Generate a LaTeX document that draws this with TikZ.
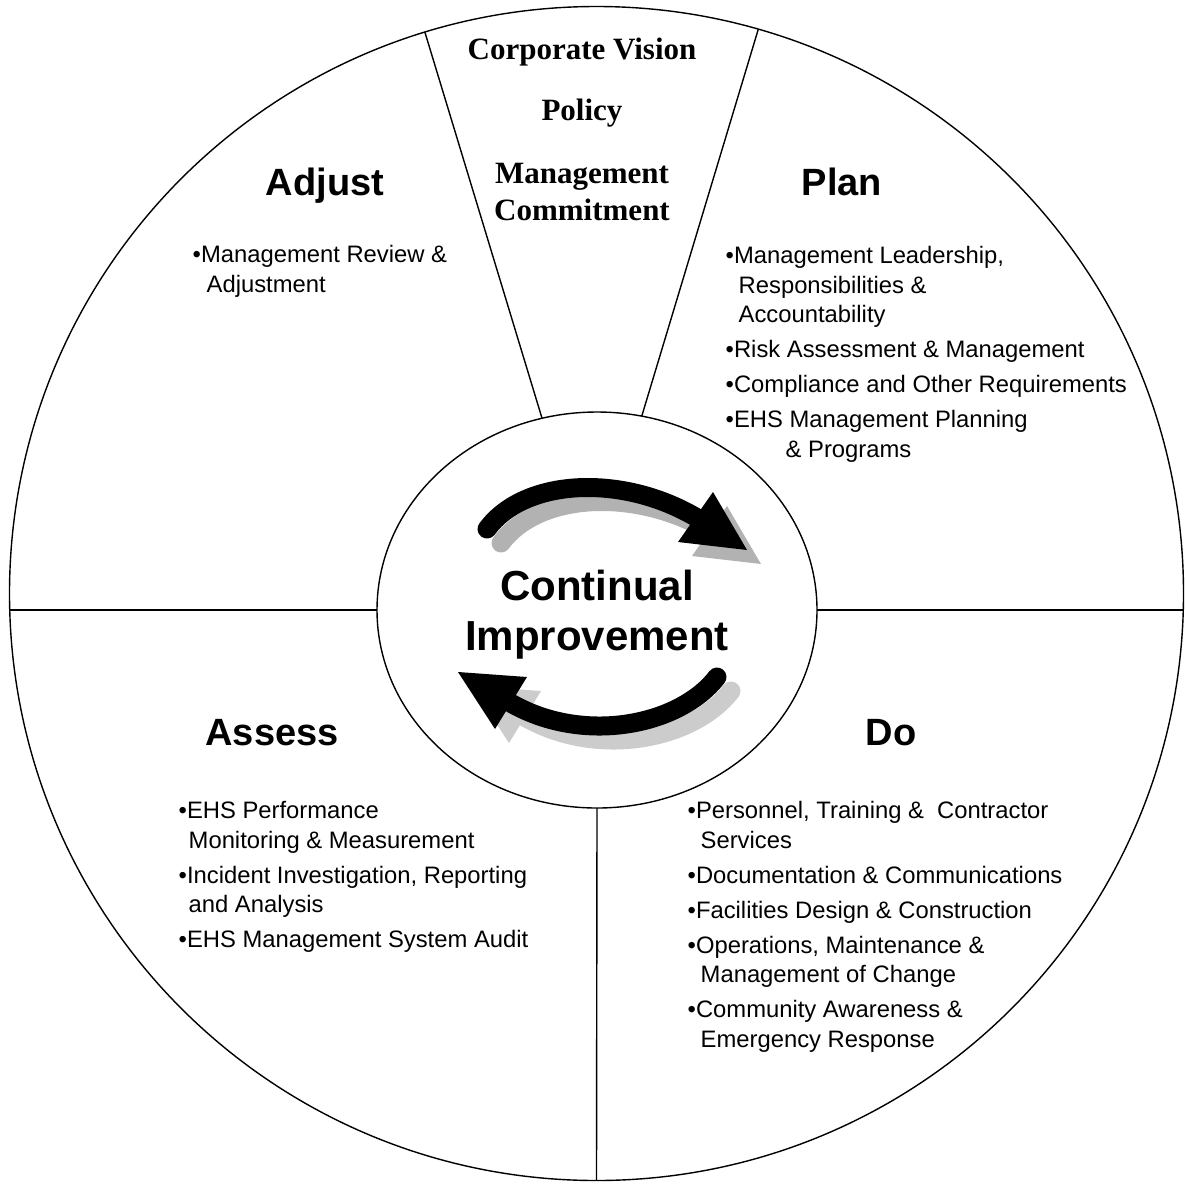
\documentclass[tikz,border=0pt]{standalone}
\usepackage{fontspec}
\setmainfont{Liberation Sans}
\newfontfamily\timesfont{Liberation Serif}
\usetikzlibrary{shapes.geometric}

\tikzset{
  heading/.style={font=\fontsize{38}{44}\selectfont\bfseries, inner sep=0pt, anchor=base},
  items/.style={font=\fontsize{23.8}{29.5}\selectfont, align=left, inner sep=0pt, anchor=north west},
  mission/.style={font=\timesfont\fontsize{31}{37}\selectfont\bfseries, align=center, inner sep=0pt},
  shaft/.style={line width=19pt, line cap=round},
}

\begin{document}
\begin{tikzpicture}[x=1pt, y=-1pt, line width=1.4pt]
  \useasboundingbox (0,0) rectangle (1185,1184);

  %% wheel
  \node[draw, circle, minimum size=1174pt, inner sep=0pt, outer sep=0pt] (rim) at (596.5,593.5) {};
  \node[draw, ellipse, minimum width=440pt, minimum height=396pt, inner sep=0pt, outer sep=0pt] (core) at (597,610) {};

  %% spokes
  \draw (core.west) -- (core.west -| rim.west);
  \draw (core.east) -- (core.east -| rim.east);
  \draw (core.south) -- (rim.south);
  \draw (core.106.7) -- (rim.107.1);
  \draw (core.77.7) -- (rim.74.1);

  %% shadows of the arrows
  \begin{scope}[shift={(14,14)}, black!30]
    \draw[shaft] (487,529) .. controls (525,478) and (622,474) .. (695.5,517);
    \fill (747,550) -- (713,492) -- (678,542) -- cycle;
  \end{scope}
  \begin{scope}[shift={(14,14)}, black!20]
    \draw[shaft] (717,677) .. controls (680,725) and (585,745) .. (511.5,703.5);
    \fill (458,672) -- (527,677) -- (495,729) -- cycle;
  \end{scope}

  %% arrows
  \draw[shaft] (487,529) .. controls (525,478) and (622,474) .. (695.5,517);
  \fill (747,550) -- (713,492) -- (678,542) -- cycle;
  \draw[shaft] (717,677) .. controls (680,725) and (585,745) .. (511.5,703.5);
  \fill (458,672) -- (527,677) -- (495,729) -- cycle;

  %% centre
  \node[font=\fontsize{42}{50}\selectfont\bfseries, align=center, inner sep=0pt, anchor=north] (ci) at (597,569) {Continual\\Improvement};

  %% top wedge
  \node[mission, anchor=base] (vision) at (582,59) {Corporate Vision};
  \node[mission, anchor=base] (policy) at (582,120) {Policy};
  \node[mission, anchor=north] (commit) at (582,162.5) {Management\\Commitment};

  %% quarter names
  \node[heading] (adjust) at (325,195) {Adjust};
  \node[heading] (plan) at (842,195) {Plan};
  \node[heading] (assess) at (272,745) {Assess};
  \node[heading] (do) at (891,745) {Do};

  %% quarter items
  \node[items] (adjitems) at (192,245) {\textbullet Management Review \&\\
    \hspace{14pt}Adjustment};
  \node[items] (planitems) at (725,246) {\textbullet Management Leadership,\\
    \hspace{13pt}Responsibilities \&\\
    \hspace{13pt}Accountability\\[5.5pt]
    \textbullet Risk Assessment \& Management\\[5.5pt]
    \textbullet Compliance and Other Requirements\\[5.5pt]
    \textbullet EHS Management Planning\\
    \hspace{60pt}\& Programs};
  \node[items] (assitems) at (178,801) {\textbullet EHS Performance\\
    \hspace{10pt}Monitoring \& Measurement\\[5.5pt]
    \textbullet Incident Investigation, Reporting\\
    \hspace{10pt}and Analysis\\[5.5pt]
    \textbullet EHS Management System Audit};
  \node[items] (doitems) at (687,801) {\textbullet Personnel, Training \&\ \ Contractor\\
    \hspace{13pt}Services\\[5.5pt]
    \textbullet Documentation \& Communications\\[5.5pt]
    \textbullet Facilities Design \& Construction\\[5.5pt]
    \textbullet Operations, Maintenance \&\\
    \hspace{13pt}Management of Change\\[5.5pt]
    \textbullet Community Awareness \&\\
    \hspace{13pt}Emergency Response};
\end{tikzpicture}
\end{document}
